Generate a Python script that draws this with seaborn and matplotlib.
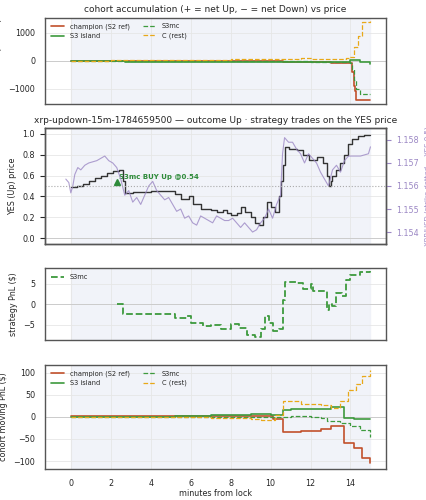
import matplotlib
matplotlib.use("Agg")
import matplotlib.pyplot as plt
import seaborn as sns

# ---- data ----
yes_t = [0, 0.3, 0.6, 0.9, 1.2, 1.5, 1.8, 2.1, 2.4, 2.6, 2.7, 3.1, 3.5, 4.0, 5.0, 5.2, 5.5, 5.9, 6.1, 6.5,
         7.0, 7.3, 7.6, 7.8, 8.0, 8.3, 8.5, 8.7, 9.0, 9.2, 9.4, 9.6, 9.8, 10.0, 10.2, 10.4, 10.5, 10.6, 10.7,
         10.9, 11.3, 11.6, 11.9, 12.3, 12.6, 12.8, 12.9, 13.0, 13.1, 13.3, 13.5, 13.7, 13.9, 14.1, 14.4, 14.7, 15.0]
yes_p = [0.49, 0.50, 0.52, 0.55, 0.58, 0.60, 0.62, 0.64, 0.65, 0.55, 0.43, 0.44, 0.44, 0.45, 0.45, 0.42, 0.38,
         0.40, 0.33, 0.28, 0.27, 0.25, 0.27, 0.24, 0.22, 0.24, 0.30, 0.25, 0.20, 0.15, 0.13, 0.20, 0.35, 0.30,
         0.25, 0.40, 0.55, 0.70, 0.87, 0.85, 0.84, 0.80, 0.75, 0.78, 0.72, 0.60, 0.50, 0.55, 0.60, 0.65, 0.72,
         0.80, 0.90, 0.95, 0.98, 0.99, 0.99]

xrp_t = [-0.25, -0.1, 0.0, 0.1, 0.2, 0.35, 0.5, 0.7, 0.9, 1.1, 1.3, 1.5, 1.7, 1.9, 2.1, 2.3, 2.5, 2.7, 2.9,
         3.1, 3.3, 3.5, 3.7, 3.9, 4.1, 4.3, 4.5, 4.7, 4.9, 5.1, 5.3, 5.5, 5.7, 5.9, 6.1, 6.3, 6.5, 6.7, 6.9,
         7.1, 7.3, 7.5, 7.7, 7.9, 8.1, 8.3, 8.5, 8.7, 8.9, 9.1, 9.3, 9.5, 9.7, 9.9, 10.1, 10.3, 10.5, 10.6,
         10.7, 10.9, 11.1, 11.3, 11.5, 11.7, 11.9, 12.1, 12.3, 12.5, 12.7, 12.9, 13.1, 13.3, 13.5, 13.7,
         13.9, 14.1, 14.3, 14.5, 14.7, 14.9, 15.0]
xrp_v = [1.15630, 1.15615, 1.15570, 1.15600, 1.15650, 1.15680, 1.15670, 1.15690, 1.15700, 1.15705, 1.15710,
         1.15720, 1.15730, 1.15710, 1.15700, 1.15680, 1.15630, 1.15560, 1.15580, 1.15530, 1.15550, 1.15520,
         1.15560, 1.15600, 1.15620, 1.15580, 1.15560, 1.15540, 1.15550, 1.15520, 1.15490, 1.15500, 1.15460,
         1.15470, 1.15440, 1.15430, 1.15470, 1.15460, 1.15450, 1.15440, 1.15470, 1.15460, 1.15450, 1.15450,
         1.15460, 1.15440, 1.15420, 1.15440, 1.15420, 1.15400, 1.15410, 1.15440, 1.15460, 1.15500, 1.15460,
         1.15520, 1.15560, 1.15740, 1.15810, 1.15790, 1.15790, 1.15760, 1.15740, 1.15700, 1.15740, 1.15720,
         1.15700, 1.15660, 1.15630, 1.15600, 1.15670, 1.15690, 1.15660, 1.15710, 1.15730, 1.15730, 1.15730,
         1.15730, 1.15735, 1.15740, 1.15770]

trade_t, trade_p = 2.3, 0.54

acc_champ_t = [0, 6.0, 10.0, 10.6, 11.0, 12.0, 13.0, 14.0, 14.1, 14.2, 14.25, 14.3, 15.0]
acc_champ_v = [0, -10, -20, -50, -30, -60, -90, -100, -400, -900, -1100, -1400, -1420]
acc_s3_t = [0, 2.7, 6.0, 10.0, 14.0, 14.5, 15.0]
acc_s3_v = [0, -30, -40, -40, 30, -60, -130]
acc_mc_t = [0, 6.0, 10.0, 12.0, 14.0, 14.1, 14.2, 14.3, 14.5, 15.0]
acc_mc_v = [0, -10, -20, -40, -80, -300, -700, -1000, -1200, -1200]
acc_c_t = [0, 2.0, 4.0, 8.0, 11.5, 12.0, 13.8, 14.0, 14.2, 14.4, 14.6, 15.0]
acc_c_v = [0, 20, 30, 50, 80, 50, 80, 150, 500, 900, 1400, 1420]

pnl_mc_t = [2.3, 2.6, 5.2, 5.8, 6.0, 6.6, 7.0, 7.5, 8.0, 8.4, 8.8, 9.2, 9.5, 9.7, 9.9, 10.1, 10.4, 10.6, 10.7,
            11.3, 11.6, 12.0, 12.1, 12.8, 12.9, 13.1, 13.3, 13.6, 13.8, 14.0, 14.5, 15.0]
pnl_mc_v = [0, -2.4, -3.3, -2.8, -4.6, -5.3, -5.0, -6.0, -4.8, -5.8, -7.5, -8.0, -6.0, -3.0, -4.5, -6.5,
            -6.0, 1.0, 5.5, 5.2, 3.8, 4.8, 3.3, -1.5, 0.0, -0.5, 2.8, 2.0, 6.0, 7.0, 7.8, 8.0]

mov_champ_t = [0, 10.1, 10.6, 11.5, 12.5, 13.0, 13.7, 14.2, 14.6, 15.0]
mov_champ_v = [1, -5, -35, -33, -28, -20, -60, -70, -92, -105]
mov_s3_t = [0, 5.2, 7.0, 9.0, 10.0, 10.6, 11.0, 12.0, 13.0, 13.7, 14.2, 15.0]
mov_s3_v = [0, 2, 5, 7, 3, 15, 17, 18, 22, -3, -5, -5]
mov_mc_t = [0, 11.0, 12.0, 12.5, 12.8, 13.5, 14.0, 14.5, 15.0]
mov_mc_v = [0, 2, 0, -3, -10, -13, -20, -30, -45]
mov_c_t = [0, 7.0, 9.0, 9.5, 10.2, 10.6, 11.5, 12.5, 13.0, 13.5, 13.9, 14.3, 14.6, 15.0]
mov_c_v = [0, -3, -5, -8, 3, 35, 30, 27, 20, 35, 60, 75, 93, 105]

C_CHAMP = "#c1502b"
C_S3 = "#3d9a3d"
C_MC = "#3d9a3d"
C_C = "#e8a818"
C_XRP = "#9b87c4"

sns.set_style("whitegrid")
plt.rcParams.update({"font.size": 5.8, "axes.edgecolor": "#555555", "axes.linewidth": 1.0,
                     "grid.color": "#e6e6e6", "grid.linewidth": 0.6})

fig, axes = plt.subplots(4, 1, figsize=(4.27, 5.0), dpi=100, sharex=True,
                         gridspec_kw={"height_ratios": [1.2, 1.6, 1.0, 1.45]})
fig.subplots_adjust(left=0.105, right=0.905, top=0.965, bottom=0.062, hspace=0.26)


def shade(ax):
    ax.axvspan(0, 15, color="#eef1f8", alpha=0.8, zorder=0)
    ax.axhline(0, color="#cccccc", lw=0.7, zorder=1)


# cohort accumulation
ax = axes[0]
shade(ax)
ax.step(acc_champ_t, acc_champ_v, where="post", color=C_CHAMP, lw=1.2, label="champion (S2 ref)")
ax.step(acc_s3_t, acc_s3_v, where="post", color=C_S3, lw=1.2, label="S3 island")
ax.step(acc_mc_t, acc_mc_v, where="post", color=C_MC, lw=0.9, ls="--", label="S3mc")
ax.step(acc_c_t, acc_c_v, where="post", color=C_C, lw=0.9, ls="--", label="C (rest)")
ax.set_ylabel("acc. net YES (shares)")
ax.set_title("cohort accumulation (+ = net Up, − = net Down) vs price", fontsize=6.5, pad=4)
ax.set_ylim(-1550, 1550)
ax.legend(loc="upper left", ncol=2, fontsize=4.8, frameon=False)

# YES price
ax = axes[1]
shade(ax)
ax.step(yes_t, yes_p, where="post", color="#333333", lw=1.0, zorder=3)
ax.plot(trade_t, trade_p, marker="^", color="#2e8b3a", ms=5, zorder=4)
ax.text(trade_t + 0.1, trade_p + 0.02, "S3mc BUY Up @0.54", color="#2e8b3a", fontsize=5,
        fontweight="bold", va="bottom")
ax.set_ylim(-0.05, 1.05)
ax.set_ylabel("YES (Up) price")
ax.set_title("xrp-updown-15m-1784659500 — outcome Up · strategy trades on the YES price", fontsize=6.5, pad=4)
ax2 = ax.twinx()
ax2.plot(xrp_t, xrp_v, color=C_XRP, lw=0.8, alpha=0.8)
ax2.axhline(1.156, color="#aaaaaa", ls=":", lw=0.8)
ax2.set_ylim(1.15350, 1.15850)
ax2.grid(False)
ax2.set_ylabel("XRP/USD (strike dotted = YES 0.5)", color=C_XRP, fontsize=5)
ax2.tick_params(axis="y", colors=C_XRP)
ax2.set_yticks([1.154, 1.155, 1.156, 1.157, 1.158])
ax2.set_yticklabels(["1.154", "1.155", "1.156", "1.157", "1.158"])

# strategy PnL
ax = axes[2]
shade(ax)
ax.step(pnl_mc_t, pnl_mc_v, where="post", color=C_MC, lw=1.3, ls="--", label="S3mc")
ax.set_ylabel("strategy PnL ($)")
ax.set_ylim(-8.8, 8.8)
ax.legend(loc="upper left", fontsize=4.8, frameon=False)

# cohort moving PnL
ax = axes[3]
shade(ax)
ax.step(mov_champ_t, mov_champ_v, where="post", color=C_CHAMP, lw=1.2, label="champion (S2 ref)")
ax.step(mov_s3_t, mov_s3_v, where="post", color=C_S3, lw=1.2, label="S3 island")
ax.step(mov_mc_t, mov_mc_v, where="post", color=C_MC, lw=0.9, ls="--", label="S3mc")
ax.step(mov_c_t, mov_c_v, where="post", color=C_C, lw=0.9, ls="--", label="C (rest)")
ax.set_ylabel("cohort moving PnL ($)")
ax.set_xlabel("minutes from lock", labelpad=1)
ax.set_ylim(-118, 118)
ax.legend(loc="upper left", ncol=2, fontsize=4.8, frameon=False)

ax.set_xlim(-1.3, 15.8)
ax.set_xticks(range(0, 15, 2))

fig.savefig("out.png", dpi=100)
